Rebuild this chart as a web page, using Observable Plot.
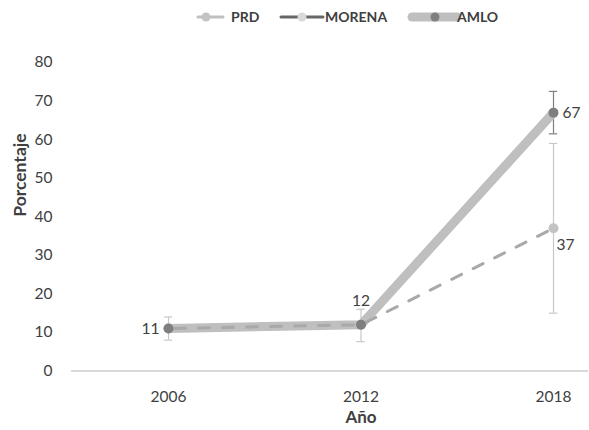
<!DOCTYPE html>
<html><head><meta charset="utf-8">
<script src="https://cdn.jsdelivr.net/npm/d3@7"></script>
<script src="https://cdn.jsdelivr.net/npm/@observablehq/plot@0.6"></script>
<style>
body{margin:0;background:#fff;font-family:Lato,"Open Sans",sans-serif;}
#legend{display:block;}
#chart svg{display:block;}
</style></head><body>
<svg id="legend" width="589" height="34"></svg>
<div id="chart"></div>
<script>
const years = [2006, 2012, 2018];
const prdValues = [11, 12, 37];
const prdLow = [8, 7.6, 15];
const prdHigh = [14, 16, 59];
const amloValues = [11, 12, 67];
const amloLow = [null, null, 61.5];
const amloHigh = [null, null, 72.5];
const morenaValues = [null, null, null];
const seriesNames = ["PRD", "MORENA", "AMLO"];
const yTicks = [0, 10, 20, 30, 40, 50, 60, 70, 80];

const prd = years.map((y, i) => ({year: y, value: prdValues[i], low: prdLow[i], high: prdHigh[i]}));
const amlo = years.map((y, i) => ({year: y, value: amloValues[i], low: amloLow[i], high: amloHigh[i]}));
const amloErr = amlo.filter(d => d.low != null);

const cap = 0.13;
const textColor = "#404040";

const chart = Plot.plot({
  width: 589,
  height: 396,
  marginLeft: 71,
  marginRight: 1,
  marginTop: 28,
  marginBottom: 59.5,
  style: {fontFamily: "Lato, 'Open Sans', sans-serif", fontSize: "15.5px", color: "#595959", background: "#fff"},
  x: {type: "linear", domain: [2006, 2018], range: [168, 553]},
  y: {domain: [0, 80]},
  marks: [
    Plot.ruleY([0], {stroke: "#d9d9d9", strokeWidth: 2}),
    Plot.axisY({ticks: yTicks, tickSize: 0, tickPadding: 19, label: null, fill: "#404040", fontSize: 15.5}),
    Plot.axisX({ticks: years, tickFormat: "d", tickSize: 0, tickPadding: 20, label: null, fill: "#404040", fontSize: 15.5}),
    // PRD error bars
    Plot.ruleX(prd, {x: "year", y1: "low", y2: "high", stroke: "#c8c8c8", strokeWidth: 1.2}),
    Plot.ruleY(prd, {x1: d => d.year - cap, x2: d => d.year + cap, y: "low", stroke: "#c8c8c8", strokeWidth: 1.2}),
    Plot.ruleY(prd, {x1: d => d.year - cap, x2: d => d.year + cap, y: "high", stroke: "#c8c8c8", strokeWidth: 1.2}),
    // AMLO error bars
    Plot.ruleX(amloErr, {x: "year", y1: "low", y2: "high", stroke: "#7f7f7f", strokeWidth: 1.2}),
    Plot.ruleY(amloErr, {x1: d => d.year - cap, x2: d => d.year + cap, y: "low", stroke: "#7f7f7f", strokeWidth: 1.2}),
    Plot.ruleY(amloErr, {x1: d => d.year - cap, x2: d => d.year + cap, y: "high", stroke: "#7f7f7f", strokeWidth: 1.2}),
    // AMLO line
    Plot.line(amlo, {x: "year", y: "value", stroke: "#bfbfbf", strokeWidth: 9, strokeLinejoin: "round", strokeLinecap: "butt"}),
    // PRD line
    Plot.line(prd, {x: "year", y: "value", stroke: "#a9a9a9", strokeWidth: 3, strokeDasharray: "11,13", strokeDashoffset: -6}),
    Plot.dot(prd, {x: "year", y: "value", r: 5, fill: "#c3c3c3", stroke: "none"}),
    Plot.dot(amlo, {x: "year", y: "value", r: 5, fill: "#7f7f7f", stroke: "none"}),
    // labels
    Plot.text([amlo[0]], {x: "year", y: "value", text: d => String(d.value), textAnchor: "end", dx: -9, fill: textColor, fontSize: 15.5}),
    Plot.text([amlo[1]], {x: "year", y: "value", text: d => String(d.value), dy: -24, fill: textColor, fontSize: 15.5}),
    Plot.text([amlo[2]], {x: "year", y: "value", text: d => String(d.value), textAnchor: "start", dx: 9, fill: textColor, fontSize: 15.5}),
    Plot.text([prd[2]], {x: "year", y: "value", text: d => String(d.value), textAnchor: "start", dx: 3, dy: 17, fill: textColor, fontSize: 15.5}),
    // axis titles
    Plot.text(["Porcentaje"], {frameAnchor: "left", rotate: -90, dx: -51, fontWeight: "bold", fill: textColor, fontSize: 17.5}),
    Plot.text(["Año"], {x: years[1], frameAnchor: "bottom", dy: 52, fontWeight: "bold", fill: textColor, fontSize: 17})
  ]
});
document.getElementById("chart").appendChild(chart);

// Legend
const lg = d3.select("#legend");
const ly = 17;
const items = [
  {name: seriesNames[0], x1: 198, x2: 223, cx: 206, stroke: "#bfbfbf", sw: 3, dot: "#c3c3c3", tx: 231},
  {name: seriesNames[1], x1: 281, x2: 323, cx: 302, stroke: "#666666", sw: 3, dot: "#d9d9d9", tx: 325},
  {name: seriesNames[2], x1: 412, x2: 457, cx: 435, stroke: "#bfbfbf", sw: 9, dot: "#7f7f7f", tx: 457}
];
for (const it of items) {
  lg.append("line").attr("x1", it.x1).attr("x2", it.x2).attr("y1", ly).attr("y2", ly)
    .attr("stroke", it.stroke).attr("stroke-width", it.sw).attr("stroke-linecap", "round");
  lg.append("circle").attr("cx", it.cx).attr("cy", ly).attr("r", 4.5).attr("fill", it.dot);
  lg.append("text").attr("x", it.tx).attr("y", ly).attr("dy", "0.35em")
    .attr("font-family", "Lato, 'Open Sans', sans-serif").attr("font-size", 14).attr("font-weight", "bold")
    .attr("fill", "#404040").text(it.name);
}
</script>
</body></html>
